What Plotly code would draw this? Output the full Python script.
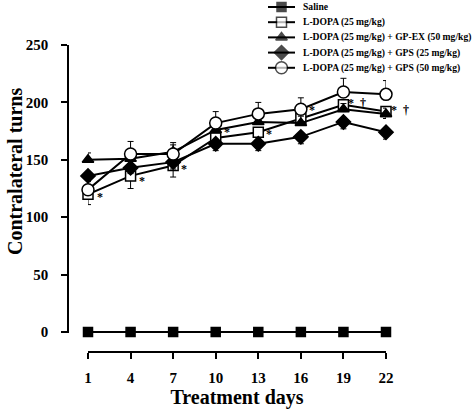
import plotly.graph_objects as go

# ---------------- data ----------------
days = [1, 4, 7, 10, 13, 16, 19, 22]
series_names = [
    "Saline",
    "L-DOPA (25 mg/kg)",
    "L-DOPA (25 mg/kg) + GP-EX (50 mg/kg)",
    "L-DOPA (25 mg/kg) + GPS (25 mg/kg)",
    "L-DOPA (25 mg/kg) + GPS (50 mg/kg)",
]
saline = [0, 0, 0, 0, 0, 0, 0, 0]
ldopa = [120, 136, 145, 169, 174, 186, 198, 192]
gpex = [150, 151, 157, 176, 183, 182, 194, 190]
gps25 = [136, 143, 148, 164, 164, 170, 183, 174]
gps50 = [124, 155, 155, 182, 190, 194, 209, 207]

saline_se = [0, 0, 0, 0, 0, 0, 0, 0]
ldopa_se = [9, 11, 10, 6, 6, 6, 6, 6]
gpex_se = [6, 5, 6, 6, 5, 6, 5, 5]
gps25_se = [5, 5, 6, 6, 6, 6, 6, 6]
gps50_se = [8, 11, 10, 10, 10, 10, 12, 12]

x_ticks = [1, 4, 7, 10, 13, 16, 19, 22]
y_ticks = [0, 50, 100, 150, 200, 250]

star_labels = ["*", "*", "*", "*", "*", "*", "*  \u2020", "*  \u2020"]

# ---------------- styles ----------------
FONT = "Liberation Serif"
W, H = 472, 411
values = [saline, ldopa, gpex, gps25, gps50]
errors = [saline_se, ldopa_se, gpex_se, gps25_se, gps50_se]
styles = [
    dict(symbol="square", size=9, fill="black", up=True),
    dict(symbol="square", size=10, fill="white", up=False),
    dict(symbol="triangle-up", size=10, fill="black", up=True),
    dict(symbol="diamond", size=11, fill="black", up=False),
    dict(symbol="circle", size=12, fill="white", up=True),
]

fig = go.Figure()

for vals, se, st in zip(values, errors, styles):
    zeros = [0] * len(se)
    err = dict(type="data", symmetric=False,
               array=se if st["up"] else zeros,
               arrayminus=zeros if st["up"] else se,
               color="black", thickness=1, width=3)
    fig.add_trace(go.Scatter(
        x=days, y=vals, mode="lines+markers",
        line=dict(color="black", width=2),
        marker=dict(symbol=st["symbol"], size=st["size"], color=st["fill"],
                    line=dict(color="black", width=1.5)),
        error_y=err, cliponaxis=False, showlegend=False,
    ))

# custom compact legend on a hidden helper axis pair
for i, (name, st) in enumerate(zip(series_names, styles)):
    fig.add_trace(go.Scatter(
        x=[0, 0.5, 1], y=[i, i, i], xaxis="x2", yaxis="y2",
        mode="lines+markers", line=dict(color="black", width=2),
        marker=dict(symbol=st["symbol"], size=[0, st["size"], 0], color=st["fill"],
                    line=dict(color="black", width=[0, 1.5, 0])),
        cliponaxis=False, showlegend=False, hoverinfo="skip",
    ))
    fig.add_annotation(x=1, y=i, xref="x2", yref="y2", text=name, showarrow=False,
                       xanchor="left", yanchor="middle", xshift=6,
                       font=dict(family=FONT, size=9.6, color="black", weight="bold"))

# significance markers next to the L-DOPA series
star_dy = [-3, -5, -3, 6, -2, 8, 2, 2]
star_dx = [12, 11, 11, 11, 11, 11, 14, 14]
for d, v, lab, dy, dx in zip(days, ldopa, star_labels, star_dy, star_dx):
    fig.add_annotation(x=d, y=v, xref="x", yref="y", text=lab, showarrow=False,
                       xshift=dx, yshift=dy,
                       font=dict(family=FONT, size=12, color="black", weight="bold"))

# y-axis title
fig.add_annotation(x=15 / W, y=(352 - 172) / 352, xref="paper", yref="paper",
                   xanchor="center", yanchor="middle",
                   text="Contralateral turns", textangle=-90, showarrow=False,
                   font=dict(family=FONT, size=20, color="black", weight="bold"))

bottom_px = 352
fig.update_layout(
    template="none",
    width=W, height=H,
    margin=dict(l=0, r=0, t=0, b=H - bottom_px, pad=0),
    paper_bgcolor="white", plot_bgcolor="white",
    font=dict(family=FONT, color="black"),
    xaxis=dict(
        domain=[88 / W, 386 / W], range=[1, 22], anchor="free", position=0,
        automargin=False,
        showline=True, linecolor="black", linewidth=1.5,
        ticks="outside", ticklen=6, tickwidth=1.5, tickcolor="black",
        tickvals=x_ticks, ticktext=[str(t) for t in x_ticks],
        tickfont=dict(family=FONT, size=15, color="black", weight="bold"),
        ticklabelstandoff=6,
        showgrid=False, zeroline=False,
        title=dict(text="Treatment days", standoff=2,
                   font=dict(family=FONT, size=20, color="black", weight="bold")),
    ),
    yaxis=dict(
        domain=[(bottom_px - 333.2) / bottom_px, (bottom_px - 45) / bottom_px],
        range=[-1, 250], anchor="free", position=68 / W,
        automargin=False,
        showline=True, linecolor="black", linewidth=1.5,
        ticks="outside", ticklen=6, tickwidth=1.5, tickcolor="black",
        tickvals=y_ticks, ticktext=[str(t) for t in y_ticks],
        tickfont=dict(family=FONT, size=15, color="black", weight="bold"),
        ticklabelstandoff=10,
        showgrid=False, zeroline=False,
    ),
    xaxis2=dict(domain=[268 / W, 295 / W], range=[0, 1], anchor="y2", visible=False,
                fixedrange=True, automargin=False),
    yaxis2=dict(domain=[(bottom_px - 76) / bottom_px, 1], range=[4.54, -0.46],
                anchor="x2", visible=False, fixedrange=True, automargin=False),
)

fig.write_html("out.html",
               config={"displayModeBar": False},
               post_script="document.body.style.margin='0';document.body.style.overflow='hidden';")
